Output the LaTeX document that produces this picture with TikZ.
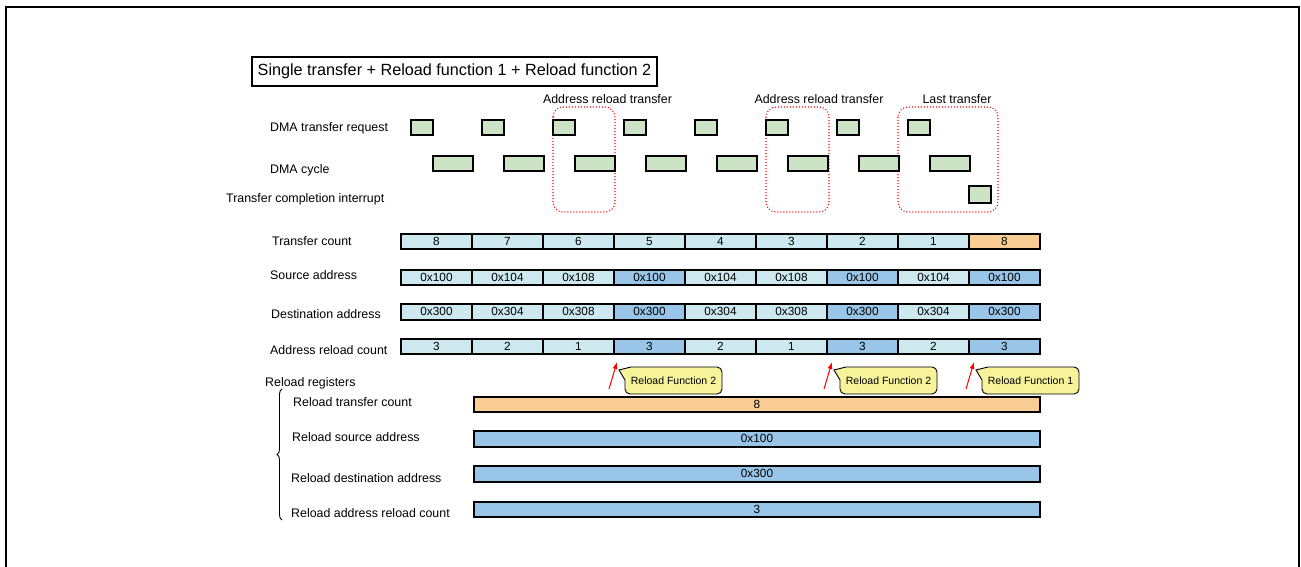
\documentclass[tikz,border=0pt]{standalone}
\usepackage{fontspec}
\setmainfont{Liberation Sans}
\usetikzlibrary{decorations.pathreplacing,arrows.meta}
\definecolor{lc}{RGB}{205,232,239}
\definecolor{bc}{RGB}{153,197,232}
\definecolor{oc}{RGB}{250,205,148}
\definecolor{gc}{RGB}{204,227,197}
\definecolor{yc}{RGB}{247,243,155}
\tikzset{
 lbl/.style={anchor=west, inner sep=0pt, text height=0.716em, text depth=0pt, font=\fontsize{12.4}{14}\selectfont, yshift=-1.5pt},
 toplbl/.style={lbl, anchor=center},
 reqbox/.style={draw=black, line width=2.7pt, fill=gc, minimum width=22pt, minimum height=15pt, inner sep=0pt, outer sep=0pt},
 cycbox/.style={reqbox, minimum width=40pt},
 cell/.style={draw=black, line width=2.5pt, minimum width=71pt, minimum height=15pt, inner sep=0pt, outer sep=0pt, text height=0.716em, text depth=0pt, font=\fontsize{11.8}{13}\selectfont},
 bar/.style={cell, minimum width=566pt},
 grp/.style={draw=red, dash pattern=on 1pt off 2pt, line width=1.1pt, rounded corners=10pt},
 callout/.style={draw=black, line width=0.9pt, fill=yc},
 calltext/.style={inner sep=0pt, text height=0.716em, text depth=0pt, font=\fontsize{10.5}{12}\selectfont},
 redarrow/.style={red, line width=1pt, -{Latex[length=7pt,width=5pt]}},
}
\begin{document}
\begin{tikzpicture}[x=1pt,y=-1pt]
\useasboundingbox (0,0) rectangle (1301,567);
% outer frame (open at bottom)
\draw[line width=2pt] (6,567) -- (6,7) -- (1299,7) -- (1299,567);
% title
\node[draw, line width=1.8pt, minimum width=405pt, minimum height=29pt, inner sep=0pt, text height=0.716em, text depth=0pt, font=\fontsize{16.2}{18}\selectfont] (title) at (454.5,71.5) {Single transfer + Reload function 1 + Reload function 2};
% row labels
\node[lbl] (lreq) at (270,126) {DMA transfer request};
\node[lbl] (lcyc) at (270,168) {DMA cycle};
\node[lbl] (lint) at (226,197.5) {Transfer completion interrupt};
\node[lbl] (ltc) at (272,240) {Transfer count};
\node[lbl] (lsa) at (270,274.5) {Source address};
\node[lbl] (lda) at (271,313.5) {Destination address};
\node[lbl] (lar) at (270,349) {Address reload count};
\node[lbl] (lrr) at (265,381.5) {Reload registers};
\node[lbl] (lrtc) at (293,401.5) {Reload transfer count};
\node[lbl] (lrsa) at (292,436.5) {Reload source address};
\node[lbl] (lrda) at (291,477.5) {Reload destination address};
\node[lbl] (lrar) at (291,512.5) {Reload address reload count};
% group labels and dotted frames
\node[toplbl] (g1l) at (607.5,98.5) {Address reload transfer};
\node[toplbl] (g2l) at (819,98.5) {Address reload transfer};
\node[toplbl] (g3l) at (957,98.5) {Last transfer};
\draw[grp] (553,107) rectangle (615,212);
\draw[grp] (766,107) rectangle (829,212);
\draw[grp] (898,107) rectangle (998,212);
% DMA request / cycle boxes
\foreach \i in {0,...,7}{
  \node[reqbox] (req\i) at ({422+71*\i},127.5) {};
  \node[cycbox] (cyc\i) at ({453+71*\i},163.5) {};
}
\node[reqbox, minimum height=17pt] (intr) at (980,194.5) {};
% register rows
\foreach \v/\c [count=\i from 0] in {8/lc,7/lc,6/lc,5/lc,4/lc,3/lc,2/lc,1/lc,8/oc}
  \node[cell, fill=\c] (tc\i) at ({436.5+71*\i},241.5) {\v};
\foreach \v/\c [count=\i from 0] in {0x100/lc,0x104/lc,0x108/lc,0x100/bc,0x104/lc,0x108/lc,0x100/bc,0x104/lc,0x100/bc}
  \node[cell, fill=\c] (sa\i) at ({436.5+71*\i},277.5) {\v};
\foreach \v/\c [count=\i from 0] in {0x300/lc,0x304/lc,0x308/lc,0x300/bc,0x304/lc,0x308/lc,0x300/bc,0x304/lc,0x300/bc}
  \node[cell, fill=\c, minimum height=16pt] (da\i) at ({436.5+71*\i},312) {\v};
\foreach \v/\c [count=\i from 0] in {3/lc,2/lc,1/lc,3/bc,2/lc,1/lc,3/bc,2/lc,3/bc}
  \node[cell, fill=\c] (ar\i) at ({436.5+71*\i},346.5) {\v};
% reload register bars
\node[bar, fill=oc] (rtc) at (757,404.5) {8};
\node[bar, fill=bc, minimum height=16pt] (rsa) at (757,439) {0x100};
\node[bar, fill=bc, minimum height=16pt] (rda) at (757,474) {0x300};
\node[bar, fill=bc] (rar) at (757,509.5) {3};
% brace
\coordinate (brb) at (282,520);
\coordinate (brt) at (282,389);
\draw[decorate, decoration={brace, amplitude=5pt}, line width=0.9pt] (brb) -- (brt);
% callouts with red arrows
\foreach \t/\txt/\n in {619/Reload Function 2/1, 834/Reload Function 2/2, 976/Reload Function 1/3}{
  \begin{scope}[xshift=\t pt]
    \draw[callout] (6,380) -- (0,370) -- (12,367) {[rounded corners=5pt] -- (103,367) -- (103,394) -- (6,394)} -- cycle;
    \node[calltext] (cf\n) at (54.5,381) {\txt};
    \coordinate (as\n) at (-10,389);
    \coordinate (ae\n) at (-2,362);
    \draw[redarrow] (as\n) -- (ae\n);
  \end{scope}
}
\end{tikzpicture}
\end{document}
